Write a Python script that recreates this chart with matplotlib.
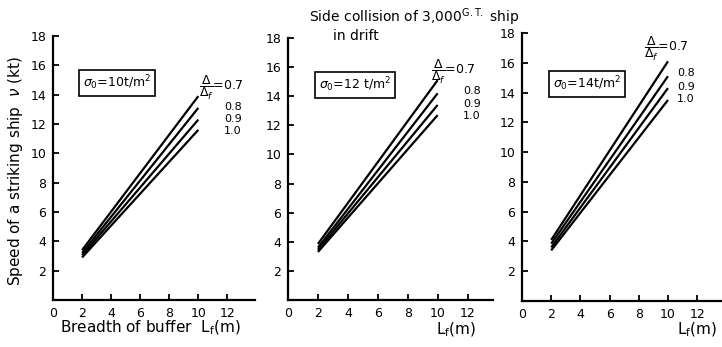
import matplotlib.pyplot as plt
import numpy as np

plt.rcParams['font.family'] = 'DejaVu Sans'
plt.rcParams['mathtext.fontset'] = 'dejavusans'

breadth = [2, 10]
ratios = ['0.7', '0.8', '0.9', '1.0']
sigma_labels = ['10t/m$^2$', '12 t/m$^2$', '14t/m$^2$']

# speed at L_f = 2 m and 10 m, one row per Delta/Delta_f
speed_s10 = [[3.4, 13.9], [3.2, 13.1], [3.05, 12.3], [2.9, 11.6]]
speed_s12 = [[3.85, 15.1], [3.6, 14.2], [3.45, 13.4], [3.3, 12.7]]
speed_s14 = [[4.1, 16.1], [3.85, 15.1], [3.6, 14.3], [3.4, 13.5]]
speeds = [speed_s10, speed_s12, speed_s14]

W, H = 722, 347
fig = plt.figure(figsize=(W / 100, H / 100), dpi=100)

def px(x, y):
    return x / W, 1 - y / H

# pixel boxes of the three panels: left, right, top, bottom
boxes = [(53, 255, 36, 300), (288, 493, 38, 300), (522, 722, 33, 301)]
xmax = [13.9, 13.7, 13.7]
sigma_pos = [(117, 83), (355, 85), (587, 84)]
frac_pos = [(199, 88), (431, 72), (644, 49)]
rest_pos = [[(233, 107), (233, 119), (233, 131)],
            [(472, 91), (472, 104), (472, 116)],
            [(686, 73), (686, 87), (686, 99)]]

axes = []
for i, (l, r, t, b) in enumerate(boxes):
    ax = fig.add_axes([l / W, 1 - b / H, (r - l) / W, (b - t) / H])
    for v in speeds[i]:
        ax.plot(breadth, v, color='black', lw=1.6, solid_capstyle='butt')
    ax.set_xlim(0, xmax[i])
    ax.set_ylim(0, 18)
    ax.set_xticks([0, 2, 4, 6, 8, 10, 12])
    ax.set_xticklabels(['0', '2', '4', '6', '8', '10', '12'])
    ax.set_yticks([2, 4, 6, 8, 10, 12, 14, 16, 18])
    ax.spines['top'].set_visible(False)
    ax.spines['right'].set_visible(False)
    ax.spines['left'].set_linewidth(1.6)
    ax.spines['bottom'].set_linewidth(1.6)
    ax.tick_params(direction='in', length=4, width=1.3, labelsize=9, pad=5)
    ax.patch.set_alpha(0)
    axes.append(ax)

    fig.text(*px(*sigma_pos[i]), r'$\sigma_0$=' + sigma_labels[i], ha='center', va='center',
             fontsize=9, bbox=dict(boxstyle='square,pad=0.3', fc='white', ec='black', lw=1.2))
    fig.text(*px(*frac_pos[i]), r'$\dfrac{\Delta}{\Delta_f}$=' + ratios[0], ha='left', va='center',
             fontsize=9)
    for (x, y), lab in zip(rest_pos[i], ratios[1:]):
        fig.text(*px(x, y), lab, ha='center', va='center', fontsize=8)

fig.text(*px(414, 17), 'Side collision of 3,000$^{\\mathrm{G.T.}}$ ship', ha='center', va='center', fontsize=10)
fig.text(*px(356, 36), 'in drift', ha='center', va='center', fontsize=10)
fig.text(*px(16, 171), r'Speed of a striking ship  $\nu$ (kt)', rotation=90, ha='center', va='center', fontsize=11)
fig.text(*px(150, 328), 'Breadth of buffer  L$_\\mathrm{f}$(m)', ha='center', va='center', fontsize=11)
fig.text(*px(456, 330), 'L$_\\mathrm{f}$(m)', ha='center', va='center', fontsize=11)
fig.text(*px(697, 330), 'L$_\\mathrm{f}$(m)', ha='center', va='center', fontsize=11)

fig.savefig('out.png', dpi=100)
